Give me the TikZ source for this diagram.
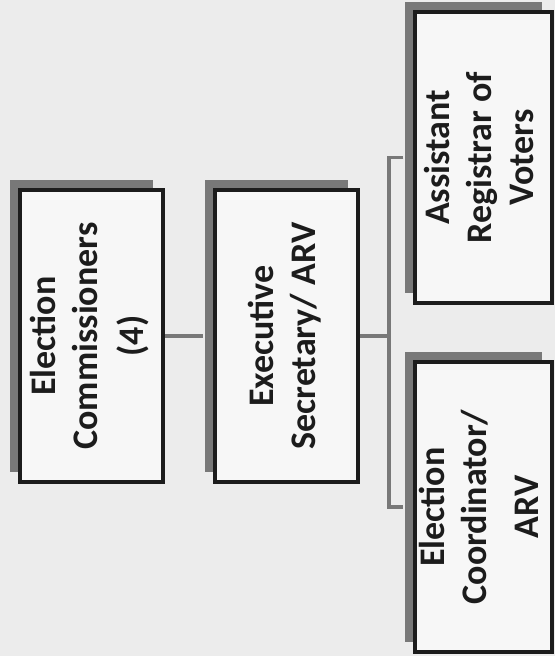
\documentclass[tikz,border=0pt]{standalone}
\usepackage{fontspec}
\setmainfont{Carlito}
\usepackage{tikz}
\usetikzlibrary{backgrounds,calc,shadows}
\definecolor{paper}{RGB}{236,236,236}
\definecolor{shade}{RGB}{120,120,120}
\definecolor{ink}{RGB}{28,28,28}

\begin{document}
\begin{tikzpicture}[x=1pt,y=1pt,
  box/.style={draw=ink, line width=3.5pt, fill=white!60!paper, inner sep=0pt,
    minimum width=143pt, minimum height=292pt,
    drop shadow={shadow xshift=-10pt, shadow yshift=10pt, fill=shade, opacity=1},
    font=\bfseries\fontsize{36}{42}\selectfont, text=ink},
  link/.style={draw=shade, line width=3.5pt}]
\useasboundingbox (0,0) rectangle (555,656);
\fill[paper] (0,0) rectangle (555,656);

% chart, turned on its side
\node[box] (comm) at (91.5,320)
  {\rotatebox{90}{\begin{tabular}{c}Election\\Commissioners\\[4pt](4)\end{tabular}}};
\node[box] (exec) at (286.5,320)
  {\rotatebox{90}{\begin{tabular}{c}Executive\\Secretary/ ARV\end{tabular}}};
\node[box, minimum width=137pt, minimum height=291pt] (asst) at (483.5,498.5)
  {\rotatebox{90}{\begin{tabular}{c}Assistant\\Registrar of\\Voters\end{tabular}}};
\node[box, minimum width=137pt, minimum height=290pt] (coord) at (483.5,149)
  {\rotatebox{90}{\begin{tabular}{c}Election\\Coordinator/\\[10pt]ARV\end{tabular}}};

\draw[link] (comm.east) -- ([xshift=-10pt]exec.west);
\draw[link] (exec.east) -- ++(29,0) coordinate (bus);
\draw[link] ([xshift=-10pt]asst.west) -| (bus) |- ([xshift=-10pt]coord.west);
\end{tikzpicture}
\end{document}
